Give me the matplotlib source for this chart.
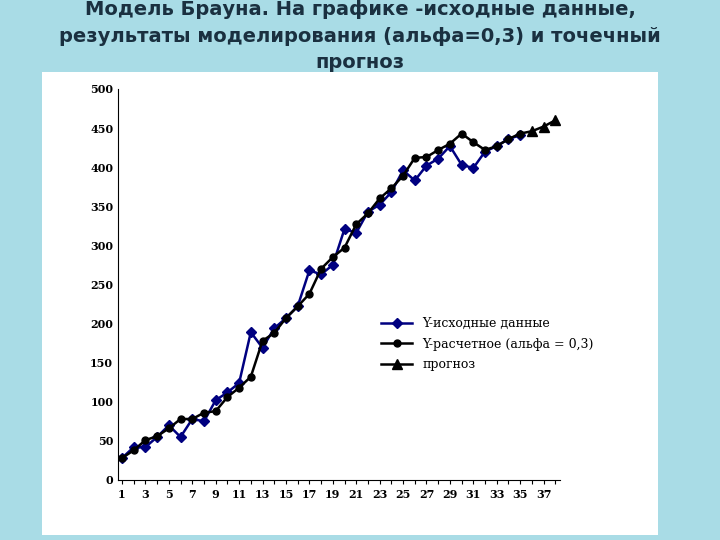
import numpy as np
import matplotlib.pyplot as plt

title = "Модель Брауна. На графике -исходные данные,\nрезультаты моделирования (альфа=0,3) и точечный\nпрогноз"

x_obs = np.arange(1, 36)
y_obs = [28, 42, 42, 55, 70, 55, 78, 75, 102, 112, 124, 189, 169, 194, 207,
         222, 268, 263, 275, 321, 316, 343, 352, 368, 396, 383, 402, 411, 427,
         403, 399, 420, 427, 436, 441]
y_calc = [28, 38, 51, 56, 66, 78, 78, 86, 88, 106, 118, 132, 178, 188, 207,
          222, 238, 270, 285, 297, 327, 341, 360, 373, 389, 412, 413, 422, 430,
          443, 432, 422, 427, 436, 443]
x_fc = [35, 36, 37, 38]
y_fc = [443, 446, 452, 460]

fig = plt.figure(figsize=(7.2, 5.4), dpi=100)
fig.patch.set_facecolor("#a9dce6")

# white panel behind the chart
bg = fig.add_axes([42/720, 5/540, 616/720, 463/540], zorder=-1)
bg.set_facecolor("white")
bg.set_xticks([])
bg.set_yticks([])
for s in bg.spines.values():
    s.set_visible(False)

fig.text(0.5, 1.0, title, ha="center", va="top", fontsize=14,
         fontweight="bold", color="#1a3040", linespacing=1.5,
         family="DejaVu Sans")

ax = fig.add_axes([118/720, 60/540, 442/720, 391/540])
ax.set_facecolor("none")
ax.plot(x_obs, y_obs, color="#000080", marker="D", markersize=5, lw=1.8,
        label="Y-исходные данные")
ax.plot(x_obs, y_calc, color="black", marker="o", markersize=5, lw=1.8,
        label="Y-расчетное (альфа = 0,3)")
ax.plot(x_fc, y_fc, color="black", marker="^", markersize=7, lw=1.8,
        markevery=[1, 2, 3], label="прогноз")

ax.set_ylim(0, 500)
ax.set_xlim(0.66, 38.4)
ax.set_yticks(range(0, 501, 50))
ax.set_xticks(range(1, 39))
ax.set_xticklabels([str(i) if i % 2 == 1 else "" for i in range(1, 39)])
for s in ["top", "right"]:
    ax.spines[s].set_visible(False)
ax.tick_params(labelsize=8, length=3, direction="out")
for lab in ax.get_xticklabels() + ax.get_yticklabels():
    lab.set_family("DejaVu Serif")
    lab.set_fontweight("bold")
ax.yaxis.set_tick_params(length=0)
ax.legend(loc="upper left", bbox_to_anchor=(0.57, 0.445), frameon=False,
          prop={"family": "DejaVu Serif", "size": 9}, handlelength=2.5,
          labelspacing=0.6)

fig.savefig("out.png", dpi=100)
